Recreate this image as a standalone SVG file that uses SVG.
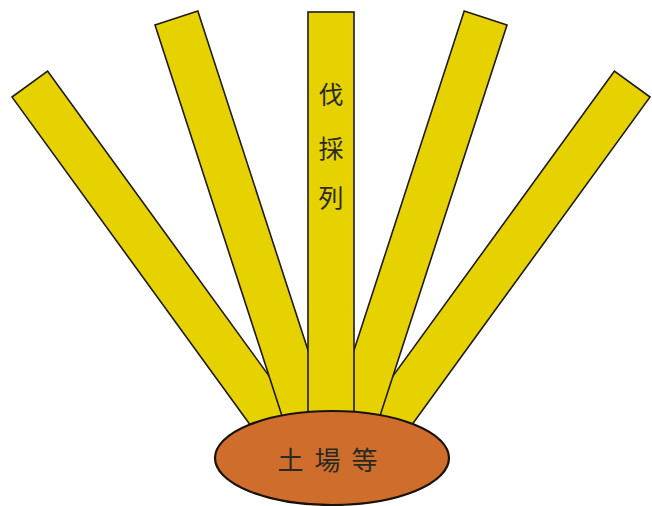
<svg xmlns="http://www.w3.org/2000/svg" width="652" height="506" viewBox="0 0 652 506">
  <style>
    .strip { fill: #e6d200; stroke: #1e1a10; stroke-width: 1.6; stroke-linejoin: miter; }
    .mound { fill: #cf6e2c; stroke: #1a1208; stroke-width: 2.2; }
    .lbl { font-family: "Noto Sans CJK JP", "Noto Sans CJK SC", sans-serif; font-size: 25px; fill: #2a2a22; text-anchor: middle; }
  </style>
  <rect x="0" y="0" width="652" height="506" fill="#ffffff"/>
  <g id="strips">
    <g id="strip-far-left">
      <rect class="strip" x="-22" y="0" width="44" height="420" transform="translate(29.8 84.1) rotate(-36)"/>
    </g>
    <g id="strip-far-right">
      <rect class="strip" x="-22" y="0" width="44" height="420" transform="translate(632.2 84.1) rotate(36)"/>
    </g>
    <g id="strip-left">
      <rect class="strip" x="-22.5" y="0" width="45" height="420" transform="translate(176.4 18.05) rotate(-18)"/>
    </g>
    <g id="strip-right">
      <rect class="strip" x="-22.5" y="0" width="45" height="420" transform="translate(485.6 18.05) rotate(18)"/>
    </g>
    <g id="strip-center">
      <rect class="strip" x="308" y="12" width="46" height="418"/>
      <text class="lbl" x="331" y="104">伐</text>
      <text class="lbl" x="331" y="158">採</text>
      <text class="lbl" x="331" y="207">列</text>
    </g>
  </g>
  <g id="landing">
    <ellipse class="mound" cx="332" cy="458" rx="117" ry="47"/>
    <text class="lbl" x="333" y="470" style="letter-spacing:11px; font-size:26px">土場等</text>
  </g>
</svg>
